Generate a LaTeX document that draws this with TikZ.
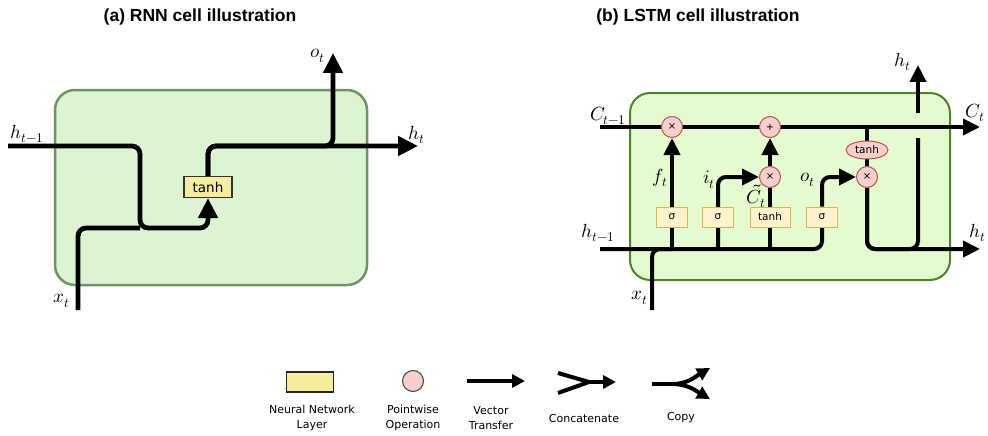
\documentclass[tikz,border=0pt]{standalone}
\usepackage{amsmath}
\usepackage{fontspec}
\usepackage{unicode-math}
\setmathfont{Latin Modern Math}
\newfontfamily\headfont{Liberation Sans}
\newfontfamily\boxfont{DejaVu Sans}
\usepackage{tikz}
\usetikzlibrary{arrows.meta,positioning,calc,shapes.geometric}
\pgfdeclarelayer{cellbg}
\pgfdeclarelayer{wires}
\pgfsetlayers{cellbg,wires,main}

\definecolor{rnnfill}{HTML}{DDF4D2}
\definecolor{rnnedge}{HTML}{6F9463}
\definecolor{lstmfill}{HTML}{E4FBCF}
\definecolor{lstmedge}{HTML}{4A8424}
\definecolor{opfill}{HTML}{F8CECC}
\definecolor{opedge}{HTML}{B85450}
\definecolor{gatefill}{HTML}{FFF2CC}
\definecolor{gateedge}{HTML}{D6B656}
\definecolor{nnfill}{HTML}{F5EC9E}

\tikzset{
     wire/.style={draw, line width=4pt},
     bigwire/.style={draw, line width=4.8pt},
     flow/.style={wire, -{Triangle[length=17pt,width=16pt]}},
     bigflow/.style={bigwire, -{Triangle[length=20pt,width=19pt]}},
     smallflow/.style={wire, -{Triangle[length=13pt,width=13pt]}},
     headline/.style={font=\headfont\bfseries\fontsize{17.5}{20}\selectfont},
     lbl/.style={font=\fontsize{19}{20}\selectfont, inner sep=0pt},
     nnlayer/.style={draw=black!80, fill=nnfill, line width=1.2pt, minimum width=48pt,
          minimum height=21pt, inner sep=0pt, font=\boxfont\fontsize{13.5}{15}\selectfont},
     gate/.style={draw=gateedge, fill=gatefill, line width=1pt, minimum width=31pt,
          minimum height=20pt, inner sep=0pt, font=\boxfont\fontsize{10.5}{12}\selectfont},
     pwop/.style={circle, draw=opedge, fill=opfill, line width=1pt, minimum size=21pt,
          inner sep=0pt, font=\boxfont\fontsize{10}{10}\selectfont},
     squash/.style={ellipse, draw=opedge, fill=opfill, line width=1pt, minimum width=42pt,
          minimum height=18pt, inner sep=0pt, font=\boxfont\fontsize{10.5}{12}\selectfont},
     legtext/.style={align=center, font=\boxfont\fontsize{11}{15}\selectfont},
}

\begin{document}
\begin{tikzpicture}[x=1pt, y=-1pt]
\useasboundingbox (0,0) rectangle (988,436);

		%% RNN cell
		\begin{scope}
		\node[headline] (titleA) at (200,17) {(a) RNN cell illustration};
		\node[nnlayer] (tanhA) at (208,187) {tanh};

		\coordinate (hprevA) at (8,146);
		\coordinate (xinA) at (78,310);
		\coordinate (mergeA) at (140,228);
		\coordinate (splitA) at (333,146);
		\coordinate (outA) at (333,53);
		\coordinate (houtA) at (418,146);

		\begin{pgfonlayer}{cellbg}
		\draw[rnnedge, fill=rnnfill, line width=2.5pt, rounded corners=20] (55,90) rectangle (367,285);
		\end{pgfonlayer}

		\begin{pgfonlayer}{wires}
		\draw[bigwire, rounded corners=8] (xinA) |- (mergeA);
		\draw[bigflow, rounded corners=8] (hprevA) -| (mergeA) -| (tanhA.south);
		\draw[bigflow, rounded corners=8] (tanhA.north) |- (houtA);
		\draw[bigflow, rounded corners=8] (tanhA.north) |- (splitA) -- (outA);
		\end{pgfonlayer}

		\node[lbl] at (27,134) {$h_{t-1}$};
		\node[lbl] at (417,135) {$h_t$};
		\node[lbl] at (318,56) {$o_t$};
		\node[lbl] at (62,301) {$x_t$};
		\end{scope}

		%% LSTM cell
		\begin{scope}
		\node[headline] (titleB) at (698,17) {(b) LSTM cell illustration};

		\node[pwop] (fMul) at (672,127) {×};
		\node[pwop] (addOp) at (770,127) {+};
		\node[pwop] (iMul) at (770,177) {×};
		\node[pwop] (oMul) at (867,177) {×};
		\node[squash] (oTanh) at (867,150) {tanh};

		\node[gate] (fSig) at (672,217) {σ};
		\node[gate] (iSig) at (718,217) {σ};
		\node[gate, minimum width=40pt] (cTanh) at (770,217) {tanh};
		\node[gate] (oSig) at (822,217) {σ};

		\coordinate (Cin) at (600,127);
		\coordinate (Cout) at (980,127);
		\coordinate (hin) at (600,249);
		\coordinate (hout) at (980,249);
		\coordinate (xin) at (652,310);
		\coordinate (hup) at (918,65);
		\coordinate (bridgeLow) at (918,138);
		\coordinate (bridgeHigh) at (918,113);

		\begin{pgfonlayer}{cellbg}
		\draw[lstmedge, fill=lstmfill, line width=2pt, rounded corners=20] (630,93) rectangle (950,280);
		\end{pgfonlayer}

		\begin{pgfonlayer}{wires}
		\draw[flow] (Cin) -- (Cout);
		\draw[wire, rounded corners=8] (xin) |- (fSig |- hin);
		\draw[flow, rounded corners=8] (hin) -| (oSig) |- (oMul);
		\draw[flow] (fSig |- hin) -- (fMul);
		\draw[flow, rounded corners=8] (iSig |- hin) |- (iMul);
		\draw[wire] (cTanh |- hin) -- (iMul);
		\draw[flow] (iMul) -- (addOp);
		\draw[wire] (oTanh |- Cin) -- (oMul);
		\draw[flow, rounded corners=8] (oMul) |- (hout);
		\draw[wire, rounded corners=8] (oMul) |- (hup |- hout) -- (bridgeLow);
		\draw[flow] (bridgeHigh) -- (hup);
		\end{pgfonlayer}

		\node[lbl] at (608,116) {$C_{t-1}$};
		\node[lbl] at (975,113) {$C_t$};
		\node[lbl] at (903,62) {$h_t$};
		\node[lbl] at (978,233) {$h_t$};
		\node[lbl] at (598,233) {$h_{t-1}$};
		\node[lbl] at (640,298) {$x_t$};
		\node[lbl] at (660,178) {$f_t$};
		\node[lbl] at (709,180) {$i_t$};
		\node[lbl] at (756,196) {$\tilde{C}_t$};
		\node[lbl] at (808,180) {$o_t$};
		\end{scope}

		%% legend
		\begin{scope}
		\node[draw=black!85, fill=nnfill, line width=1.2pt, minimum width=47pt, minimum height=20pt, inner sep=0pt] (legLayer) at (310,382) {};
		\node[circle, draw=black!75, fill=opfill, line width=1pt, minimum size=21pt, inner sep=0pt] (legOp) at (413,381) {};

		\coordinate (vecA) at (467,381);
		\coordinate (vecB) at (525,381);
		\coordinate (catU) at (558,373);
		\coordinate (catL) at (558,393);
		\coordinate (catJ) at (589,382);
		\coordinate (catE) at (616,382);
		\coordinate (copyA) at (652,384);
		\coordinate (copyJ) at (672,384);
		\coordinate (copyU) at (710,368);
		\coordinate (copyD) at (710,399);

		\draw[smallflow] (vecA) -- (vecB);
		\draw[wire] (catU) -- (catJ) -- (catL);
		\draw[smallflow] (catJ) -- (catE);
		\draw[wire] (copyA) -- (copyJ);
		\draw[smallflow] (copyJ) to[out=0, in=210] (copyU);
		\draw[smallflow] (copyJ) to[out=0, in=150] (copyD);

		\node[legtext] at (312,418) {Neural Network\\Layer};
		\node[legtext] at (413,418) {Pointwise\\Operation};
		\node[legtext] at (491,418) {Vector\\Transfer};
		\node[legtext] at (584,418) {Concatenate};
		\node[legtext] at (681,418) {Copy};
		\end{scope}

\end{tikzpicture}
\end{document}
